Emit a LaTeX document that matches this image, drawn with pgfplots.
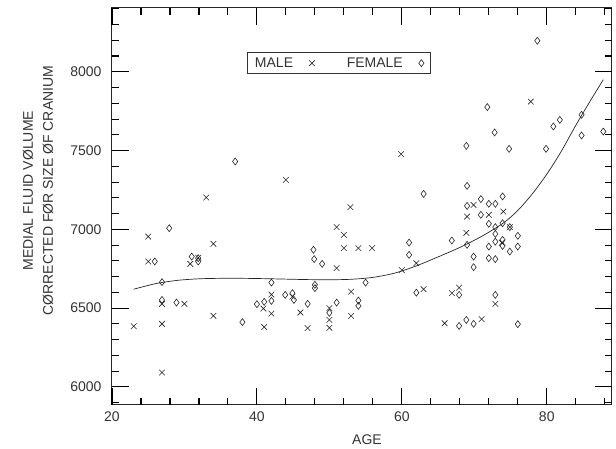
\documentclass[border=0pt]{standalone}
\usepackage{fontspec}
\setmainfont{Liberation Sans}
\usepackage{pgfplots}
\pgfplotsset{compat=1.18}
\pgfplotstableread{
x y
23.0 6385
25.0 6954
25.0 6796
26.9 6527
26.9 6400
26.9 6091
30.0 6527
30.8 6781
31.9 6820
33.0 7202
34.0 6908
34.0 6451
40.9 6497
41.0 6380
42.0 6586
42.0 6465
44.0 7314
44.9 6573
46.0 6472
47.0 6373
50.0 6500
50.0 6425
50.0 6375
51.0 7014
51.0 6754
52.0 6965
52.0 6881
52.9 7141
53.0 6605
53.0 6451
54.0 6881
55.9 6881
59.9 7477
60.0 6741
62.0 6785
63.0 6620
65.9 6404
66.9 6595
67.9 6630
68.9 6978
69.0 7081
69.9 7155
71.0 6430
72.0 7092
72.9 6527
73.8 6915
74.0 7113
74.9 7014
77.8 7811
}\male
\pgfplotstableread{
x y
25.9 6796
26.9 6665
26.9 6552
27.9 7007
28.9 6535
31.0 6827
31.9 6817
31.9 6796
37.0 7431
38.0 6411
40.0 6525
41.0 6540
42.0 6662
42.0 6546
43.9 6584
44.9 6595
45.1 6552
47.0 6527
47.8 6870
47.9 6811
48.0 6648
48.0 6627
49.0 6781
50.0 6470
51.0 6535
54.0 6548
54.0 6514
55.0 6662
61.0 6916
61.0 6838
62.0 6598
63.0 7225
66.9 6929
67.9 6584
67.9 6387
68.9 6425
68.9 7530
69.0 7276
69.0 7149
69.0 6902
69.9 6827
69.9 6760
69.9 6400
70.9 7192
70.9 7092
71.8 7776
72.0 7162
72.0 7035
72.0 6891
72.0 6817
72.8 7615
72.9 7162
72.9 7014
72.9 6971
72.9 6922
72.9 6811
72.9 6584
73.9 7209
73.9 7039
73.9 6933
73.9 6895
74.8 7511
74.9 7014
74.9 6859
76.0 6959
76.0 6891
76.0 6398
78.7 8197
79.9 7511
80.9 7653
81.8 7695
84.8 7727
84.8 7596
87.8 7621
}\female
\pgfplotstableread{
x y
23 6620
26 6655
29 6676
32 6686
35 6689
38 6689
41 6687
44 6684
47 6681
50 6680
53 6683
56 6695
59 6722
62 6768
65 6825
68 6885
71 6955
74 7040
76 7120
78 7225
80 7350
82 7495
84 7660
86 7815
87.8 7950
}\fit
\begin{document}
\begin{tikzpicture}
\path (-112pt,-44pt) rectangle (504pt,405pt);
\begin{axis}[at={(0pt,0pt)}, anchor=south west, scale only axis,
 width=500pt, height=397pt,
 xmin=20, xmax=89, ymin=5885, ymax=8405,
 xtick={20,40,60,80}, ytick={6000,6500,7000,7500,8000},
 minor x tick num=4, minor y tick num=4,
 tickwidth=17pt, subtickwidth=7pt,
 tick style={black, line width=1.1pt},
 axis line style={black!85, line width=1pt},
 scaled ticks=false,
 /pgf/number format/assume math mode=true,
 /pgf/number format/1000 sep={},
 tick label style={font=\fontsize{14}{16}\selectfont, text=black!80},
 yticklabel style={xshift=-7pt},
 xticklabel style={yshift=-3pt},
 xlabel={AGE},
 xlabel style={font=\fontsize{14}{16}\selectfont, text=black!80, at={(axis description cs:0.51,-0.088)}, anchor=center},
 ylabel={MEDIAL FLUID VØLUME\\CØRRECTED FØR SIZE ØF CRANIUM},
 ylabel style={font=\fontsize{14}{20}\selectfont, text=black!80, align=center, at={(axis description cs:-0.148,0.54)}, anchor=center},
 legend plot pos=right,
 legend columns=2,
 legend style={at={(0.453,0.861)}, anchor=center, draw=black!80, line width=0.6pt,
   font=\fontsize{14}{16}\selectfont, text=black!80, inner xsep=6pt, inner ysep=3pt,
   /tikz/column 1/.style={column sep=14pt},
   /tikz/column 2/.style={column sep=30pt},
   /tikz/column 3/.style={column sep=14pt}},
 clip=false,
]
\addplot[only marks, mark=x, mark size=4pt, black!85, line width=0.6pt] table[x=x,y=y] {\male};
\addlegendentry{MALE}
\addplot[only marks, mark=diamond, mark size=3.5pt, black!85, line width=0.6pt] table[x=x,y=y] {\female};
\addlegendentry{FEMALE}
\addplot[smooth, black!85, line width=0.7pt, forget plot] table[x=x,y=y] {\fit};
\pgfplotsinvokeforeach{20,40,60,80}{
  \draw[black, line width=1.1pt] (axis cs:#1,5885) -- (axis cs:#1,5993);
  \draw[black, line width=1.1pt] (axis cs:#1,8405) -- (axis cs:#1,8297);
}
\pgfplotsinvokeforeach{24,28,32,36,44,48,52,56,64,68,72,76,84,88}{
  \draw[black, line width=1.1pt] (axis cs:#1,5885) -- (axis cs:#1,5930);
  \draw[black, line width=1.1pt] (axis cs:#1,8405) -- (axis cs:#1,8360);
}
\pgfplotsinvokeforeach{6000,6500,7000,7500,8000}{
  \draw[black, line width=1.1pt] (axis cs:20,#1) -- (axis cs:22.35,#1);
  \draw[black, line width=1.1pt] (axis cs:89,#1) -- (axis cs:86.65,#1);
}
\pgfplotsinvokeforeach{5900,6100,6200,6300,6400,6600,6700,6800,6900,7100,7200,7300,7400,7600,7700,7800,7900,8100,8200,8300,8400}{
  \draw[black, line width=1.1pt] (axis cs:20,#1) -- (axis cs:20.97,#1);
  \draw[black, line width=1.1pt] (axis cs:89,#1) -- (axis cs:88.03,#1);
}
\end{axis}
\end{tikzpicture}
\end{document}
